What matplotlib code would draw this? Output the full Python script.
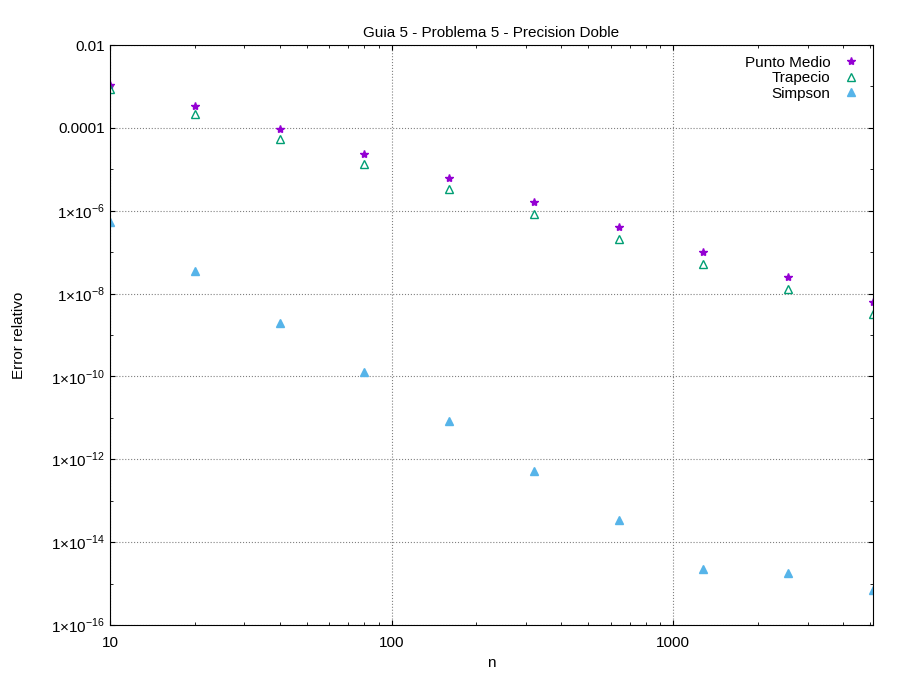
import matplotlib.pyplot as plt
from matplotlib.ticker import FixedLocator, FixedFormatter, LogLocator, NullFormatter

n = [10, 20, 40, 80, 160, 320, 640, 1280, 2560, 5120]
punto_medio = [1.07e-3, 3.4e-4, 9.3e-5, 2.4e-5, 6.1e-6, 1.6e-6, 4.1e-7, 1.0e-7, 2.5e-8, 6.3e-9]
trapecio = [8.7e-4, 2.16e-4, 5.4e-5, 1.35e-5, 3.3e-6, 8.3e-7, 2.1e-7, 5.2e-8, 1.3e-8, 3.2e-9]
simpson = [5.4e-7, 3.5e-8, 2.0e-9, 1.3e-10, 8.3e-12, 5.2e-13, 3.4e-14, 2.2e-15, 1.8e-15, 7.0e-16]

xtick_vals = [10, 100, 1000]
xtick_labels = ['10', '100', '1000']
ytick_vals = [1e-2, 1e-4, 1e-6, 1e-8, 1e-10, 1e-12, 1e-14, 1e-16]
ytick_labels = ['0.01', '0.0001', r'1×10$^{-6}$', r'1×10$^{-8}$', r'1×10$^{-10}$',
                r'1×10$^{-12}$', r'1×10$^{-14}$', r'1×10$^{-16}$']

plt.rcParams['font.family'] = ['Liberation Sans', 'DejaVu Sans']
plt.rcParams['mathtext.fontset'] = 'custom'
plt.rcParams['mathtext.rm'] = 'Liberation Sans'

fig = plt.figure(figsize=(9, 6.75), dpi=100)
ax = fig.add_axes([110/900, 50/675, 763/900, 580/675])

ax.plot(n, punto_medio, ls='none', marker='*', ms=6, color='#9400D3', label='Punto Medio')
ax.plot(n, trapecio, ls='none', marker='^', ms=6, mfc='none', mec='#009E73', label='Trapecio')
ax.plot(n, simpson, ls='none', marker='^', ms=6, color='#56B4E9', label='Simpson')

ax.set_xscale('log')
ax.set_yscale('log')
ax.set_xlim(10, 5120)
ax.set_ylim(1e-16, 1e-2)
ax.xaxis.set_major_locator(FixedLocator(xtick_vals))
ax.xaxis.set_major_formatter(FixedFormatter(xtick_labels))
ax.xaxis.set_minor_formatter(NullFormatter())
ax.yaxis.set_major_locator(FixedLocator(ytick_vals))
ax.yaxis.set_major_formatter(FixedFormatter(ytick_labels))
ax.yaxis.set_minor_locator(LogLocator(base=10, subs=[1.0], numticks=30))
ax.yaxis.set_minor_formatter(NullFormatter())
ax.tick_params(which='both', direction='in', top=True, right=True, labelsize=11)
ax.tick_params(axis='x', pad=8)
ax.grid(True, which='major', ls=':', color='gray', lw=0.8)

ax.set_title('Guia 5 - Problema 5 - Precision Doble', fontsize=11)
ax.set_xlabel('n', fontsize=11)
ax.set_ylabel('Error relativo', fontsize=11, labelpad=18)
ax.legend(loc='upper right', frameon=False, markerfirst=False, fontsize=11,
          handletextpad=0.6, handlelength=1.5, labelspacing=0.1, borderaxespad=0.3)

fig.savefig('out.png')
